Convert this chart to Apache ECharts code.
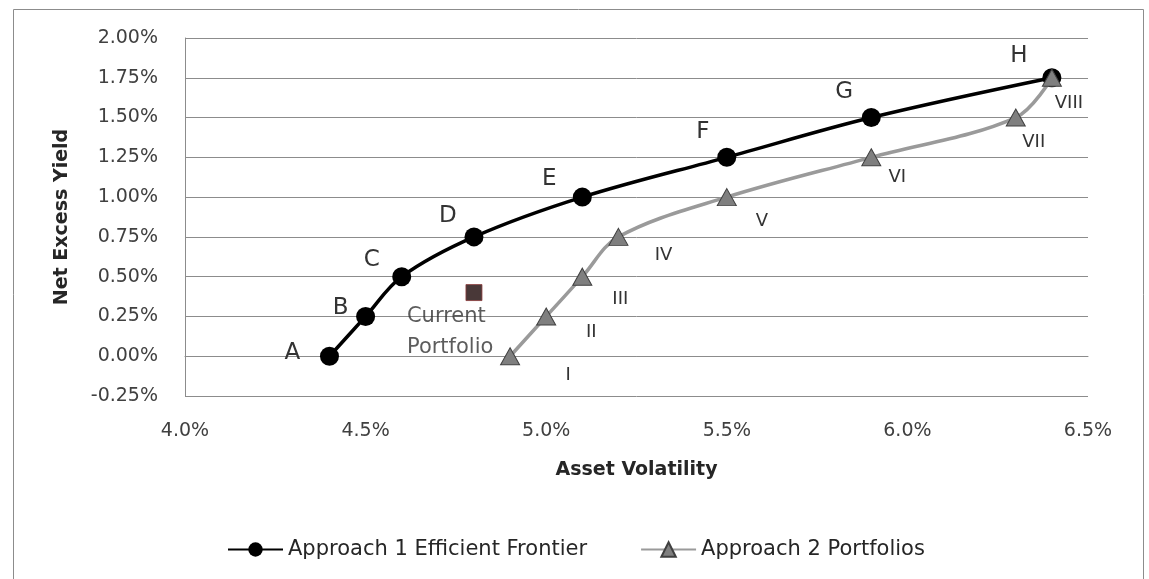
<!DOCTYPE html>
<html>
<head>
<meta charset="utf-8">
<script src="https://cdn.jsdelivr.net/npm/echarts@6/dist/echarts.min.js"></script>
<style>
  html, body { margin: 0; padding: 0; background: #fff; }
  #container { width: 1149px; height: 579px; }
</style>
</head>
<body>
<div id="container"></div>
<script>
// Approach 1 efficient frontier (asset volatility %, net excess yield %)
var frontierNames = ['A', 'B', 'C', 'D', 'E', 'F', 'G', 'H'];
var frontierVol = [4.4, 4.5, 4.6, 4.8, 5.1, 5.5, 5.9, 6.4];
var frontierYield = [0.00, 0.25, 0.50, 0.75, 1.00, 1.25, 1.50, 1.75];

// Approach 2 portfolios
var portfolioNames = ['I', 'II', 'III', 'IV', 'V', 'VI', 'VII', 'VIII'];
var portfolioVol = [4.9, 5.0, 5.1, 5.2, 5.5, 5.9, 6.3, 6.4];
var portfolioYield = [0.00, 0.25, 0.50, 0.75, 1.00, 1.25, 1.50, 1.75];

// current portfolio
var currentVol = [4.8];
var currentYield = [0.40];

// label placement (pixel offsets from each marker)
var frontierLabelOffset = [[-37, -3], [-25, -8], [-30, -17], [-26, -21], [-33, -18], [-24, -25], [-27, -26], [-33, -22]];
var portfolioLabelOffset = [[58, 19], [45, 16], [38, 23], [45, 18], [35, 24], [26, 20], [18, 25], [17, 26]];

var FONT = 'DejaVu Sans';
var GRID_COLOR = '#8c8c8c';

function buildPoints(xs, ys, names, offsets) {
  return xs.map(function (x, i) {
    return {
      name: names ? names[i] : '',
      value: [x, ys[i]],
      label: offsets ? { offset: offsets[i] } : undefined
    };
  });
}

var dom = document.getElementById('container');
var myChart = echarts.init(dom, null, { renderer: 'canvas' });

var option = {
  animation: false,
  backgroundColor: '#fff',
  textStyle: { fontFamily: FONT },
  graphic: [{
    type: 'rect',
    shape: { x: 13.5, y: 9.5, width: 1130, height: 620 },
    style: { fill: 'none', stroke: '#8c8c8c', lineWidth: 1 },
    silent: true
  }],
  grid: { left: 185, right: 61, top: 38, bottom: 183, containLabel: false },
  legend: {
    data: ['Approach 1 Efficient Frontier', 'Approach 2 Portfolios'],
    left: 222,
    top: 534,
    itemWidth: 55,
    itemHeight: 18,
    itemGap: 53,
    textStyle: { fontFamily: FONT, fontSize: 21, color: '#262626' }
  },
  xAxis: {
    type: 'value',
    min: 4.0,
    max: 6.5,
    interval: 0.5,
    name: 'Asset Volatility',
    nameLocation: 'middle',
    nameGap: 65,
    nameTextStyle: { fontFamily: FONT, fontSize: 19, fontWeight: 'bold', color: '#262626' },
    axisLine: { show: true, lineStyle: { color: GRID_COLOR, width: 1 } },
    axisTick: { show: false },
    splitLine: { show: false },
    axisLabel: {
      margin: 26,
      fontFamily: FONT,
      fontSize: 19,
      color: '#404040',
      formatter: function (v) { return v.toFixed(1) + '%'; }
    }
  },
  yAxis: {
    type: 'value',
    min: -0.25,
    max: 2.0,
    interval: 0.25,
    name: 'Net Excess Yield',
    nameLocation: 'middle',
    nameRotate: 90,
    nameGap: 113,
    nameTextStyle: { fontFamily: FONT, fontSize: 19, fontWeight: 'bold', color: '#262626' },
    axisLine: { show: true, lineStyle: { color: GRID_COLOR, width: 1 } },
    axisTick: { show: false },
    splitLine: { show: true, lineStyle: { color: GRID_COLOR, width: 1 } },
    axisLabel: {
      margin: 27,
      fontFamily: FONT,
      fontSize: 19,
      color: '#404040',
      formatter: function (v) { return v.toFixed(2) + '%'; }
    }
  },
  series: [
    {
      name: 'Approach 1 Efficient Frontier',
      type: 'line',
      smooth: 0.35,
      data: buildPoints(frontierVol, frontierYield, frontierNames, frontierLabelOffset),
      symbol: 'circle',
      symbolSize: 19,
      itemStyle: { color: '#000' },
      lineStyle: { color: '#000', width: 3.5 },
      label: {
        show: true,
        position: 'inside',
        formatter: '{b}',
        fontFamily: FONT,
        fontSize: 23,
        color: '#333'
      },
      z: 3
    },
    {
      name: 'Approach 2 Portfolios',
      type: 'line',
      smooth: 0.35,
      data: buildPoints(portfolioVol, portfolioYield, portfolioNames, portfolioLabelOffset),
      symbol: 'triangle',
      symbolSize: [19, 17],
      itemStyle: { color: '#7f7f7f', borderColor: '#404040', borderWidth: 1 },
      lineStyle: { color: '#9a9a9a', width: 3.5 },
      label: {
        show: true,
        position: 'inside',
        formatter: '{b}',
        fontFamily: FONT,
        fontSize: 18,
        color: '#333'
      },
      z: 4
    },
    {
      name: 'Current Portfolio',
      type: 'scatter',
      data: buildPoints(currentVol, currentYield, ['Current\nPortfolio'], [[-67, 39]]),
      symbol: 'rect',
      symbolSize: 16,
      itemStyle: { color: '#1c0606', borderColor: '#8a3a3a', borderWidth: 1 },
      label: {
        show: true,
        position: 'inside',
        align: 'left',
        verticalAlign: 'middle',
        formatter: '{b}',
        lineHeight: 31,
        fontFamily: FONT,
        fontSize: 21,
        color: '#333'
      },
      z: 5
    }
  ]
};

myChart.setOption(option);
window.addEventListener('resize', myChart.resize);
</script>
</body>
</html>
